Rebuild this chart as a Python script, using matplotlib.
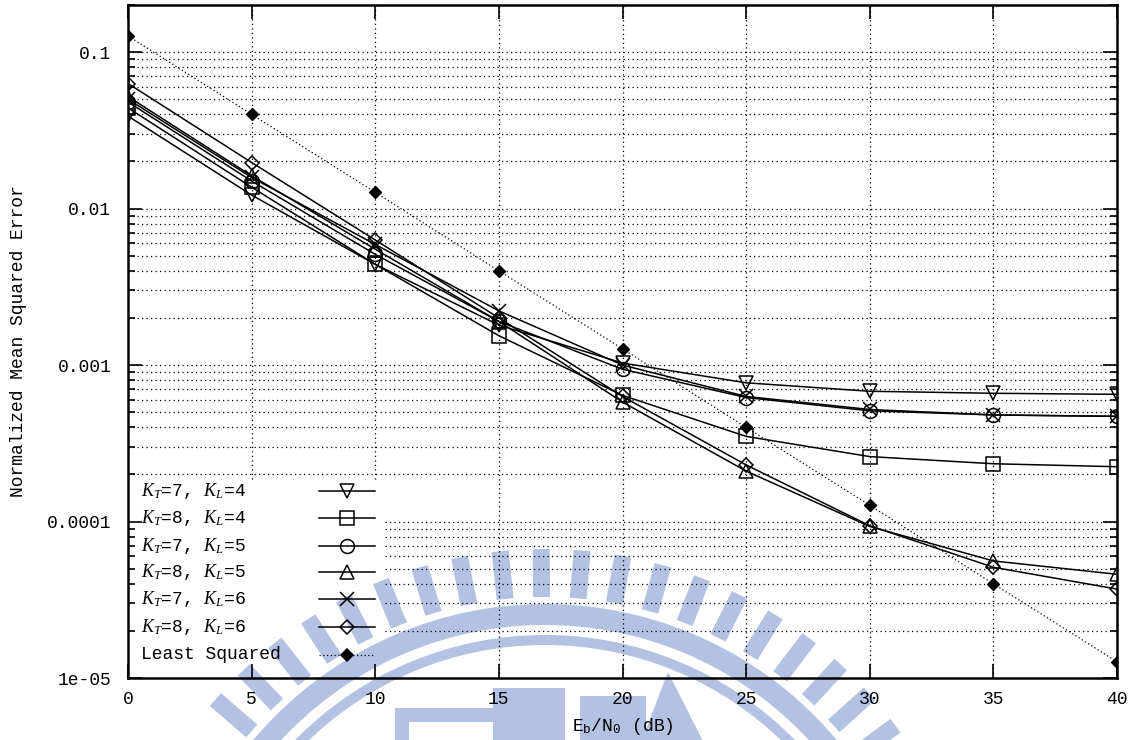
import numpy as np
import matplotlib
matplotlib.use("Agg")
import matplotlib.pyplot as plt
from matplotlib.patches import Wedge, Rectangle, Polygon

# ---- data -------------------------------------------------------------
snr_db = [0, 5, 10, 15, 20, 25, 30, 35, 40]

mse_kt7_kl4 = [0.039, 0.0122, 0.0044, 0.0018, 0.00103, 0.00077, 0.00068, 0.00066, 0.00065]
mse_kt8_kl4 = [0.044, 0.0137, 0.0044, 0.00154, 0.00064, 0.00035, 0.00026, 0.000234, 0.000224]
mse_kt7_kl5 = [0.048, 0.0150, 0.0051, 0.0019, 0.00094, 0.00062, 0.00051, 0.00048, 0.00047]
mse_kt8_kl5 = [0.052, 0.0162, 0.0055, 0.0019, 0.00058, 0.00021, 0.000093, 0.000056, 0.000046]
mse_kt7_kl6 = [0.050, 0.0158, 0.0059, 0.00222, 0.00100, 0.00063, 0.00052, 0.00048, 0.00047]
mse_kt8_kl6 = [0.063, 0.0197, 0.0063, 0.0020, 0.00063, 0.00023, 0.000094, 0.000051, 0.000037]
mse_ls = [0.127, 0.040, 0.0127, 0.0040, 0.00127, 0.00040, 0.000127, 0.000040, 0.0000127]

series_labels = [r"$K_T$=7, $K_L$=4", r"$K_T$=8, $K_L$=4", r"$K_T$=7, $K_L$=5",
                 r"$K_T$=8, $K_L$=5", r"$K_T$=7, $K_L$=6", r"$K_T$=8, $K_L$=6",
                 "Least Squared"]
x_ticks = [0, 5, 10, 15, 20, 25, 30, 35, 40]
y_ticks = [1e-5, 1e-4, 1e-3, 1e-2, 1e-1]
y_ticklabels = ["1e-05", "0.0001", "0.001", "0.01", "0.1"]

# ---- style ------------------------------------------------------------
plt.rcParams["font.family"] = ["Liberation Mono", "DejaVu Sans Mono"]
plt.rcParams["mathtext.fontset"] = "custom"
plt.rcParams["mathtext.rm"] = "Liberation Mono"
plt.rcParams["mathtext.it"] = "Liberation Serif:italic"
plt.rcParams["mathtext.bf"] = "Liberation Mono:bold"
FS = 13

W, H = 1143, 740
fig = plt.figure(figsize=(W / 100, H / 100), dpi=100)
fig.patch.set_facecolor("white")

# ---- background emblem (light blue) ------------------------------------
bg = fig.add_axes([0, 0, 1, 1], zorder=-1)
bg.set_xlim(0, W)
bg.set_ylim(H, 0)
bg.set_axis_off()
wm = "#b3c2e2"
cx, cy = 545, 985
for ang in np.arange(36.5, 144, 5.4):
    a = np.deg2rad(ang)
    r0, r1, half = 388, 436, 8.5
    ux, uy = np.cos(a), -np.sin(a)
    px, py = -uy, ux
    pts = [(cx + ux * r0 + px * half, cy + uy * r0 + py * half),
           (cx + ux * r1 + px * half, cy + uy * r1 + py * half),
           (cx + ux * r1 - px * half, cy + uy * r1 - py * half),
           (cx + ux * r0 - px * half, cy + uy * r0 - py * half)]
    bg.add_patch(Polygon(pts, closed=True, color=wm, lw=0))
bg.add_patch(Wedge((cx, cy), 381, 180, 360, width=21, color=wm, lw=0))
bg.add_patch(Wedge((cx, cy), 350, 180, 360, width=10, color=wm, lw=0))
bg.add_patch(Rectangle((493, 688), 72, 60, color=wm, lw=0))
bg.add_patch(Rectangle((580, 696), 66, 60, color=wm, lw=0))
bg.add_patch(Polygon([(640, 745), (668, 672), (705, 745)], closed=True, color=wm, lw=0))
bg.add_patch(Rectangle((405, 708), 88, 14, color=wm, lw=0))
bg.add_patch(Rectangle((395, 708), 14, 40, color=wm, lw=0))

# ---- main axes --------------------------------------------------------
ax = fig.add_axes([128 / W, 1 - 678 / H, (1117 - 128) / W, (678 - 5) / H])
ax.patch.set_alpha(0)
ax.set_yscale("log")
ax.set_xlim(0, 40)
ax.set_ylim(1e-5, 0.2)

# legend area (axes fraction) kept clear of grid lines
leg_right, leg_top = 0.26, 0.296

grid_kw = dict(color="black", lw=0.9, ls=(0, (1, 2.6)), zorder=0.5)
ymin, ymax = ax.get_ylim()
ylocs = []
for dec in range(-5, 0):
    for m in range(1, 10):
        v = m * 10.0 ** dec
        if ymin < v < ymax:
            ylocs.append(v)
for v in ylocs:
    frac = (np.log10(v) - np.log10(ymin)) / (np.log10(ymax) - np.log10(ymin))
    start = leg_right if frac < leg_top else 0
    ax.axhline(v, xmin=start, xmax=1, **grid_kw)
for x in x_ticks[1:-1]:
    frac = x / 40
    start = leg_top if frac < leg_right else 0
    ax.axvline(x, ymin=start, ymax=1, **grid_kw)

line_kw = dict(color="black", lw=1.1, mfc="none", mec="black", mew=1.1, zorder=3)
series = [
    (mse_kt7_kl4, "v", 10),
    (mse_kt8_kl4, "s", 9.5),
    (mse_kt7_kl5, "o", 10),
    (mse_kt8_kl5, "^", 10),
    (mse_kt7_kl6, "x", 10),
    (mse_kt8_kl6, "D", 7),
]
for vals, mk, ms in series:
    ax.plot(snr_db, vals, marker=mk, ms=ms, **line_kw)
ax.plot(snr_db, mse_ls, color="black", lw=0.9, ls=(0, (1, 2)), marker="D",
        ms=6.5, mfc="black", mec="black", zorder=3)

# legend rows, drawn in axes coordinates
row_y = [0.2779, 0.2373, 0.1966, 0.1571, 0.1169, 0.0762, 0.0342]
styles = [(mk, ms, "-", "none") for _, mk, ms in series] + [("D", 6.5, (0, (1, 2)), "black")]
for lab, y, (mk, ms, ls, fc) in zip(series_labels, row_y, styles):
    ax.text(0.0128, y, lab, transform=ax.transAxes, fontsize=FS,
            ha="left", va="center")
    ax.plot([0.193, 0.2497], [y, y], transform=ax.transAxes, color="black",
            lw=1.1 if ls == "-" else 0.9, ls=ls, clip_on=False)
    ax.plot([0.2211], [y], transform=ax.transAxes, marker=mk, ms=ms,
            mfc=fc, mec="black", mew=1.1, clip_on=False)

ax.set_xticks(x_ticks)
ax.set_xticklabels([str(t) for t in x_ticks])
ax.set_yticks(y_ticks)
ax.set_yticklabels(y_ticklabels)
ax.yaxis.set_minor_formatter(matplotlib.ticker.NullFormatter())
ax.tick_params(which="both", direction="in", top=True, right=True,
               labelsize=FS, width=1.2, color="black")
ax.tick_params(which="major", length=10)
ax.tick_params(which="minor", length=5)
ax.tick_params(axis="x", pad=9)
ax.tick_params(axis="y", pad=12)
for sp in ax.spines.values():
    sp.set_linewidth(1.8)

ax.set_xlabel(r"E$_\mathrm{b}$/N$_0$ (dB)", fontsize=FS, labelpad=6)
ax.set_ylabel("Normalized Mean Squared Error", fontsize=FS, labelpad=14)

fig.savefig("out.png", dpi=100)
